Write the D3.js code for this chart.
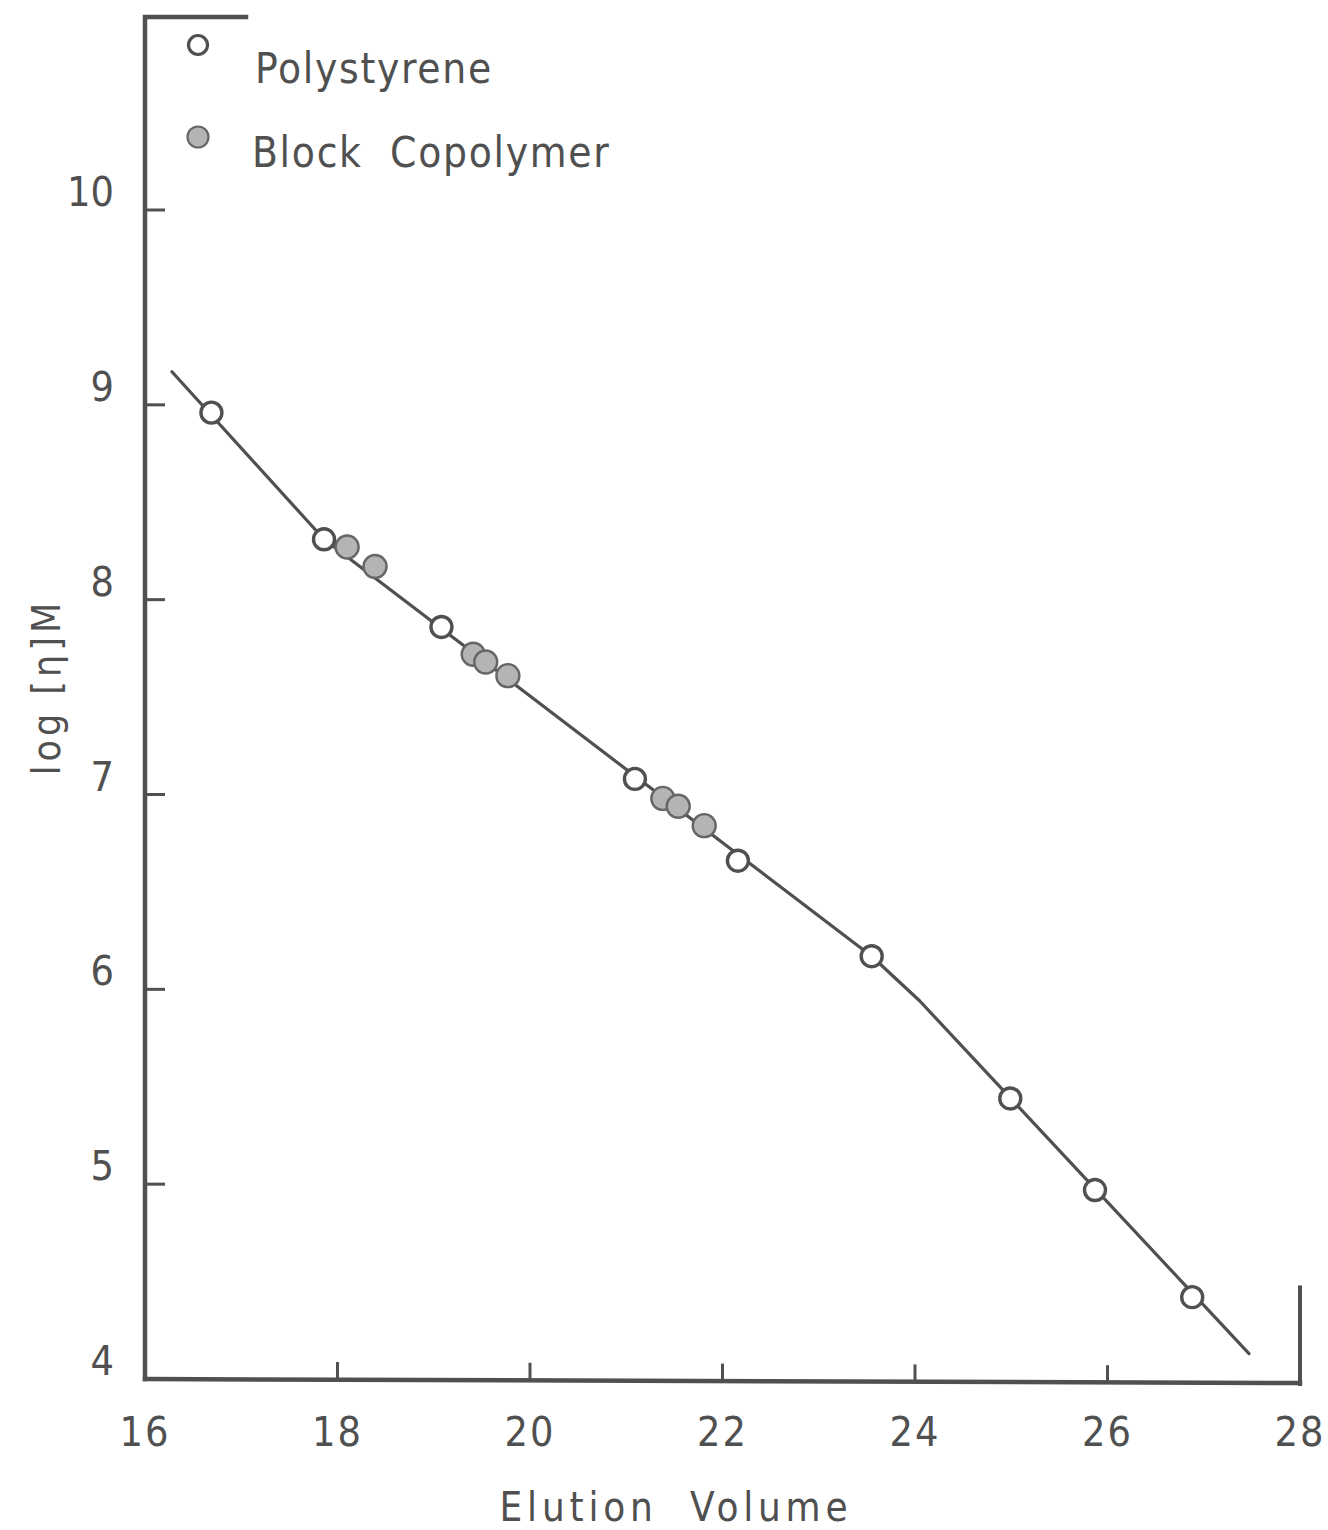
<!DOCTYPE html>
<html>
<head>
<meta charset="utf-8">
<script src="https://cdn.jsdelivr.net/npm/d3@7"></script>
<style>
  html, body { margin: 0; padding: 0; background: #ffffff; }
  svg { display: block; }
  .lbl { font-family: "Liberation Sans Narrow", "DejaVu Sans Condensed", "Liberation Sans", sans-serif; fill: #505050; }
</style>
</head>
<body>
<svg id="chart" width="1328" height="1530"></svg>
<script>
// Calibration data: elution volume vs log [η]M
const polystyreneVe   = [16.69, 17.86, 19.08, 21.09, 22.16, 23.55, 24.99, 25.87, 26.88];
const polystyreneLogM = [8.96, 8.31, 7.86, 7.08, 6.66, 6.17, 5.44, 4.97, 4.42];

const copolymerVe   = [18.10, 18.39, 19.41, 19.54, 19.77, 21.38, 21.54, 21.81];
const copolymerLogM = [8.27, 8.17, 7.72, 7.68, 7.61, 6.98, 6.94, 6.84];

// Hand-drawn calibration curve through the standards
const curveVe   = [16.28, 17.86, 23.55, 24.05, 27.47];
const curveLogM = [9.17, 8.31, 6.17, 5.94, 4.13];

const xTicks = [16, 18, 20, 22, 24, 26, 28];
const yTicks = [4, 5, 6, 7, 8, 9, 10];

const legendLabels = ["Polystyrene", "Block  Copolymer"];
const xTitle = "Elution  Volume";
const yTitle = "log [η]M";

const ink = "#505050";
const svg = d3.select("#chart");

const x = d3.scaleLinear().domain([16, 28]).range([145, 1300]);
const y = d3.scaleLinear().domain([4, 10]).range([1379, 210]);

// Frame: left axis with short top cap, bottom axis and short right post
const frame = svg.append("g").attr("stroke", ink).attr("fill", "none").attr("stroke-linecap", "square");
frame.append("path")
  .attr("d", `M${x(16)},${y(4)} L${x(16)},17 L246,17`)
  .attr("stroke-width", 4.5);
frame.append("line")
  .attr("x1", x(16)).attr("x2", x(28)).attr("y1", y(4)).attr("y2", y(4) + 4)
  .attr("stroke-width", 4.5);
frame.append("line")
  .attr("x1", x(28)).attr("x2", x(28)).attr("y1", y(4.47)).attr("y2", y(4) + 5)
  .attr("stroke-width", 4);

// Ticks (inward)
svg.append("g").selectAll("line").data(xTicks.filter(d => d > 16 && d < 28)).join("line")
  .attr("x1", d => x(d)).attr("x2", d => x(d))
  .attr("y1", (d, i) => y(4) + 1 + i * 0.8).attr("y2", (d, i) => y(4) - 17 + i * 0.8)
  .attr("stroke", ink).attr("stroke-width", 3);
svg.append("g").selectAll("line").data(yTicks.filter(d => d > 4)).join("line")
  .attr("x1", x(16)).attr("x2", x(16) + 20)
  .attr("y1", d => y(d)).attr("y2", d => y(d))
  .attr("stroke", ink).attr("stroke-width", 3);

// Tick labels
svg.append("g").selectAll("text").data(xTicks).join("text")
  .attr("class", "lbl")
  .attr("x", d => x(d)).attr("y", 1446)
  .attr("text-anchor", "middle")
  .attr("font-size", 41).attr("letter-spacing", 2)
  .text(d => d);
svg.append("g").selectAll("text").data(yTicks).join("text")
  .attr("class", "lbl")
  .attr("x", 114).attr("y", d => y(d) - 4)
  .attr("text-anchor", "end")
  .attr("font-size", 41).attr("letter-spacing", 0)
  .text(d => d);

// Axis titles
svg.append("text")
  .attr("class", "lbl")
  .attr("x", 676).attr("y", 1521)
  .attr("text-anchor", "middle")
  .attr("font-size", 40).attr("letter-spacing", 4.8)
  .attr("xml:space", "preserve")
  .text(xTitle);
svg.append("text")
  .attr("class", "lbl")
  .attr("transform", "translate(60,687) rotate(-90)")
  .attr("text-anchor", "middle")
  .attr("font-size", 39).attr("letter-spacing", 4)
  .attr("xml:space", "preserve")
  .text(yTitle);

// Calibration curve
const line = d3.line().x(d => x(d[0])).y(d => y(d[1]));
svg.append("path")
  .datum(d3.zip(curveVe, curveLogM))
  .attr("d", line)
  .attr("fill", "none").attr("stroke", ink).attr("stroke-width", 3.2)
  .attr("stroke-linejoin", "round").attr("stroke-linecap", "round");

// Block copolymer points (grey filled)
svg.append("g").selectAll("circle").data(d3.zip(copolymerVe, copolymerLogM)).join("circle")
  .attr("cx", d => x(d[0])).attr("cy", d => y(d[1])).attr("r", 11.5)
  .attr("fill", "#b4b4b4").attr("stroke", "#666666").attr("stroke-width", 2.4);

// Polystyrene points (open)
svg.append("g").selectAll("circle").data(d3.zip(polystyreneVe, polystyreneLogM)).join("circle")
  .attr("cx", d => x(d[0])).attr("cy", d => y(d[1])).attr("r", 10.5)
  .attr("fill", "#ffffff").attr("stroke", ink).attr("stroke-width", 3.4);

// Legend
const legend = svg.append("g");
legend.append("circle").attr("cx", 198).attr("cy", 45).attr("r", 9.5)
  .attr("fill", "#ffffff").attr("stroke", ink).attr("stroke-width", 3.2);
legend.append("circle").attr("cx", 198).attr("cy", 137).attr("r", 10.5)
  .attr("fill", "#b4b4b4").attr("stroke", "#666666").attr("stroke-width", 2.2);
legend.selectAll("text").data(legendLabels).join("text")
  .attr("class", "lbl")
  .attr("x", (d, i) => i === 0 ? 255 : 252)
  .attr("y", (d, i) => i === 0 ? 83 : 167)
  .attr("font-size", 42).attr("letter-spacing", 1.7)
  .attr("xml:space", "preserve")
  .text(d => d);
</script>
</body>
</html>
